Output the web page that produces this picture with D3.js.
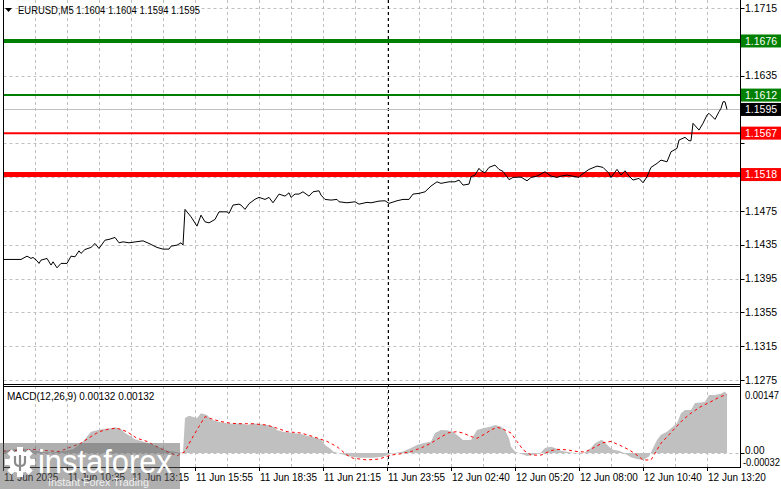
<!DOCTYPE html>
<html><head><meta charset="utf-8">
<script src="https://cdn.jsdelivr.net/npm/d3@7"></script>
<style>
html,body{margin:0;padding:0;background:#fff;}
svg{display:block;}
text{font-family:"Liberation Sans",Arial,sans-serif;}
</style></head>
<body>
<script>
// ---------- DATA ----------
const symbolTitle = "EURUSD,M5  1.1604 1.1604 1.1594 1.1595";
const macdTitle = "MACD(12,26,9) 0.00132 0.00132";
const priceTicks = [1.1275,1.1315,1.1355,1.1395,1.1435,1.1475,1.1515,1.1555,1.1595,1.1635,1.1675,1.1715];
const timeLabels = ["11 Jun 2025","11 Jun 10:35","11 Jun 13:15","11 Jun 15:55","11 Jun 18:35","11 Jun 21:15","11 Jun 23:55","12 Jun 02:40","12 Jun 05:20","12 Jun 08:00","12 Jun 10:40","12 Jun 13:20"];
const timeLabelBars = [0,32,64,96,128,160,192,224,256,288,320,352];
const levelValues = [1.1676, 1.1612, 1.1567, 1.1518];
const currentPrice = 1.1595;
const macdTicks = [0.00147, 0.00, -0.00032];
const daySeparatorBar = 192.5;
// [bar index, close]
const priceSeries = [
[0,1.14176],[9,1.14176],[12,1.14215],[14,1.14188],[15,1.14200],[17,1.14160],[18,1.14129],[19,1.14168],[22,1.14188],[24,1.14109],
[25,1.14148],[27,1.14077],[29,1.14129],[32,1.14129],[34,1.14215],[36,1.14207],[38,1.14278],[39,1.14247],[41,1.14294],[44,1.14318],
[46,1.14365],[48,1.14306],[51,1.14404],[53,1.14413],[56,1.14436],[58,1.14373],[60,1.14384],[63,1.14373],[70,1.14396],[73,1.14365],
[77,1.14318],[80,1.14298],[83,1.14298],[84,1.14333],[87,1.14345],[89,1.14373],[90,1.14345],[91,1.14768],[94,1.14680],[97,1.14570],
[99,1.14700],[101,1.14621],[103,1.14609],[106,1.14649],[108,1.14739],[112,1.14739],[113,1.14720],[115,1.14819],[118,1.14830],[119,1.14819],
[121,1.14768],[123,1.14835],[126,1.14888],[128,1.14910],[131,1.14886],[133,1.14910],[135,1.14846],[138,1.14949],[141,1.14925],[143,1.14964],
[144,1.14910],[146,1.14949],[148,1.14949],[150,1.14976],[153,1.14925],[155,1.14976],[158,1.14988],[159,1.14937],[161,1.14886],[164,1.14878],
[167,1.14886],[168,1.14858],[172,1.14846],[176,1.14858],[178,1.14830],[182,1.14851],[184,1.14846],[188,1.14866],[191,1.14870],[193,1.14839],
[197,1.14870],[200,1.14886],[203,1.14886],[205,1.14949],[208,1.14957],[211,1.14976],[214,1.15044],[217,1.15094],[219,1.15076],[223,1.15094],
[226,1.15094],[228,1.15115],[230,1.15055],[233,1.15067],[234,1.15154],[236,1.15174],[238,1.15253],[239,1.15225],[241,1.15201],[243,1.15265],
[246,1.15292],[248,1.15241],[250,1.15217],[253,1.15120],[255,1.15146],[259,1.15150],[262,1.15106],[264,1.15146],[267,1.15162],[271,1.15213],
[274,1.15162],[277,1.15146],[279,1.15162],[282,1.15174],[288,1.15146],[289,1.15174],[293,1.15241],[297,1.15280],[300,1.15265],[303,1.15194],
[304,1.15146],[307,1.15241],[309,1.15174],[311,1.15225],[313,1.15162],[315,1.15115],[318,1.15135],[320,1.15083],[322,1.15154],[324,1.15265],
[327,1.15312],[329,1.15351],[332,1.15331],[334,1.15449],[337,1.15490],[338,1.15588],[341,1.15620],[343,1.15580],[344,1.15580],[345,1.15786],
[348,1.15706],[350,1.15786],[352,1.15884],[353,1.15904],[356,1.15833],[358,1.15923],[359,1.15963],[360,1.16041],[361,1.16041],[362,1.15950]
];
// [bar index, MACD main]
const macdSeries = [
[0,0.00005],[5,0.00008],[10,0.00010],[15,0.00006],[20,0.00002],[25,0.00001],[30,0.00004],[35,0.00008],[40,0.00026],[42,0.00037],
[44,0.00048],[47,0.00051],[50,0.00054],[54,0.00056],[56,0.00058],[59,0.00054],[61,0.00045],[64,0.00037],[66,0.00031],[69,0.00027],
[72,0.00023],[75,0.00018],[79,0.00011],[82,0.00005],[85,0.00003],[88,0.00001],[90,0.00001],[91,0.00079],[93,0.00084],[97,0.00079],
[99,0.00090],[102,0.00086],[104,0.00076],[107,0.00071],[112,0.00067],[115,0.00066],[119,0.00067],[122,0.00063],[125,0.00067],[129,0.00065],
[132,0.00063],[135,0.00060],[137,0.00052],[140,0.00048],[145,0.00045],[149,0.00043],[152,0.00039],[155,0.00036],[159,0.00031],[161,0.00018],
[164,0.00008],[165,0.00003],[169,-0.00002],[172,-0.00007],[178,-0.00011],[185,-0.00011],[190,-0.00009],[194,-0.00002],[200,0.00003],[204,0.00011],
[207,0.00018],[210,0.00022],[214,0.00026],[216,0.00045],[219,0.00052],[222,0.00051],[225,0.00048],[228,0.00037],[230,0.00029],[234,0.00029],
[237,0.00052],[240,0.00056],[244,0.00060],[246,0.00063],[249,0.00060],[251,0.00052],[253,0.00033],[254,0.00014],[256,0.00003],[259,-0.00002],
[262,-0.00007],[265,-0.00005],[269,0.00001],[271,0.00011],[274,0.00014],[276,0.00011],[279,0.00005],[281,0.00003],[284,0.00001],[287,-0.00001],
[289,-0.00002],[292,0.00003],[294,0.00011],[296,0.00022],[299,0.00029],[300,0.00028],[303,0.00014],[305,0.00007],[308,0.00005],[310,0.00001],
[314,-0.00010],[317,-0.00014],[320,-0.00016],[323,-0.00008],[325,0.00011],[327,0.00029],[329,0.00041],[332,0.00048],[334,0.00056],[337,0.00067],
[339,0.00090],[341,0.00097],[344,0.00097],[346,0.00113],[349,0.00114],[351,0.00116],[353,0.00131],[356,0.00131],[359,0.00134],[361,0.00139],[362,0.00132]
];
// [bar index, MACD signal]
const signalSeries = [
[0,0.00004],[8,0.00006],[15,0.00008],[22,0.00005],[28,0.00003],[39,0.00022],[44,0.00037],[48,0.00048],[53,0.00054],[57,0.00056],
[62,0.00048],[67,0.00033],[72,0.00026],[77,0.00014],[82,0.00003],[87,-0.00007],[91,0.00003],[94,0.00029],[98,0.00060],[101,0.00082],
[105,0.00076],[109,0.00071],[114,0.00067],[119,0.00066],[125,0.00066],[132,0.00063],[137,0.00056],[142,0.00048],[149,0.00045],[155,0.00037],
[162,0.00026],[167,0.00014],[172,-0.00005],[175,-0.00012],[182,-0.00016],[188,-0.00014],[194,-0.00005],[199,-0.00002],[204,0.00003],[209,0.00011],
[214,0.00022],[219,0.00036],[223,0.00046],[227,0.00048],[230,0.00045],[234,0.00037],[237,0.00033],[241,0.00043],[244,0.00052],[247,0.00058],
[250,0.00054],[254,0.00045],[257,0.00026],[260,0.00007],[264,-0.00005],[269,-0.00005],[274,0.00005],[277,0.00008],[282,0.00007],[287,0.00003],
[291,0.00002],[295,0.00011],[300,0.00023],[304,0.00026],[309,0.00016],[313,0.00007],[317,-0.00005],[320,-0.00016],[324,-0.00016],[327,0.00007],
[329,0.00022],[333,0.00041],[336,0.00056],[340,0.00075],[344,0.00090],[349,0.00105],[354,0.00116],[358,0.00126],[361,0.00131],[362,0.00132]
];

// ---------- LAYOUT / STYLE ----------
const W = 781, H = 489;
const L = 3.5, R = 740.5;
const mainTop = 0, mainBot = 384, macdTop = 386, macdBot = 467;
const levelStyle = [
  {color:"#008000", width:4},
  {color:"#008000", width:2},
  {color:"#ff0000", width:2},
  {color:"#ff0000", width:5}
];
const gridColor = "#c0c0c0";

const svg = d3.select("body").append("svg").attr("width", W).attr("height", H);

const x = d3.scaleLinear().domain([0, 362]).range([3, 727]);
const yP = d3.scaleLinear().domain([1.1275, 1.1715]).range([380, 8]);
const yM = d3.scaleLinear().domain([-0.00032, 0.00147]).range([467, 388]);

// grid: horizontal (price)
svg.append("g").selectAll("line").data(priceTicks).join("line")
  .attr("x1", L).attr("x2", R)
  .attr("y1", d => Math.round(yP(d)) + 0.5).attr("y2", d => Math.round(yP(d)) + 0.5)
  .attr("stroke", gridColor).attr("stroke-dasharray", "3,3");
// grid: vertical
const vGridBars = d3.range(16, 362, 16);
[[mainTop, mainBot], [macdTop, macdBot]].forEach(([t, b]) => {
  svg.append("g").selectAll("line").data(vGridBars).join("line")
    .attr("x1", d => Math.round(x(d)) + 0.5).attr("x2", d => Math.round(x(d)) + 0.5)
    .attr("y1", t).attr("y2", b)
    .attr("stroke", gridColor).attr("stroke-dasharray", "3,3");
});
// MACD zero line
svg.append("line").attr("x1", L).attr("x2", R)
  .attr("y1", Math.round(yM(0)) + 0.5).attr("y2", Math.round(yM(0)) + 0.5)
  .attr("stroke", gridColor).attr("stroke-dasharray", "3,3");

// day separator
svg.append("line")
  .attr("x1", Math.round(x(daySeparatorBar)) + 0.5).attr("x2", Math.round(x(daySeparatorBar)) + 0.5)
  .attr("y1", 0).attr("y2", macdBot)
  .attr("stroke", "#000").attr("stroke-dasharray", "3,3");

// current price line
svg.append("line").attr("x1", L).attr("x2", R)
  .attr("y1", Math.round(yP(currentPrice)) + 0.5).attr("y2", Math.round(yP(currentPrice)) + 0.5)
  .attr("stroke", "#c0c0c0").attr("stroke-width", 1);

// level lines
svg.append("g").selectAll("line").data(levelValues).join("line")
  .attr("x1", L).attr("x2", R)
  .attr("y1", d => yP(d)).attr("y2", d => yP(d))
  .attr("stroke", (d, i) => levelStyle[i].color)
  .attr("stroke-width", (d, i) => levelStyle[i].width);

// price line
svg.append("path").datum(priceSeries)
  .attr("d", d3.line().x(d => x(d[0])).y(d => yP(d[1])))
  .attr("fill", "none").attr("stroke", "#000").attr("stroke-width", 1);

// MACD histogram
svg.append("path").datum(macdSeries)
  .attr("d", d3.area().x(d => x(d[0])).y0(yM(0)).y1(d => yM(d[1])))
  .attr("fill", "#c0c0c0");
// signal
svg.append("path").datum(signalSeries)
  .attr("d", d3.line().x(d => x(d[0])).y(d => yM(d[1])))
  .attr("fill", "none").attr("stroke", "#ff0000").attr("stroke-width", 1)
  .attr("stroke-dasharray", "3,3");

// frames
const frame = svg.append("g").attr("stroke", "#000").attr("shape-rendering", "crispEdges");
frame.append("line").attr("x1", L).attr("x2", L).attr("y1", 0).attr("y2", macdBot);
frame.append("line").attr("x1", R).attr("x2", R).attr("y1", 0).attr("y2", macdBot);
frame.append("line").attr("x1", L).attr("x2", R).attr("y1", mainBot + 0.5).attr("y2", mainBot + 0.5);
frame.append("line").attr("x1", L).attr("x2", R).attr("y1", macdTop + 0.5).attr("y2", macdTop + 0.5);
frame.append("line").attr("x1", L).attr("x2", R).attr("y1", macdBot + 0.5).attr("y2", macdBot + 0.5);

// price axis ticks & labels (labels hidden where a level box covers them)
const boxed = levelValues.concat([currentPrice]);
const visibleTicks = priceTicks.filter(t => boxed.every(b => Math.abs(yP(t) - yP(b)) > 11));
const pa = svg.append("g");
pa.selectAll("line").data(priceTicks).join("line")
  .attr("x1", R).attr("x2", R + 4)
  .attr("y1", d => Math.round(yP(d)) + 0.5).attr("y2", d => Math.round(yP(d)) + 0.5)
  .attr("stroke", "#000");
pa.selectAll("text").data(visibleTicks).join("text")
  .attr("x", 745).attr("y", d => yP(d)).attr("dy", "0.35em")
  .attr("font-size", "10.5px").attr("fill", "#000")
  .text(d => d.toFixed(4));

// level labels
function priceBox(v, color) {
  const g = svg.append("g");
  const cy = yP(v);
  g.append("rect").attr("x", 741).attr("y", cy - 6.5).attr("width", 40).attr("height", 13).attr("fill", color);
  g.append("text").attr("x", 745).attr("y", cy).attr("dy", "0.35em")
    .attr("font-size", "10.5px").attr("fill", "#fff").text(v.toFixed(4));
}
priceBox(currentPrice, "#000");
levelValues.forEach((v, i) => priceBox(v, levelStyle[i].color));

// MACD axis labels
const ma = svg.append("g");
ma.append("text").attr("x", 745).attr("y", yM(macdTicks[0]) + 7).attr("dy", "0.35em")
  .attr("font-size", "10px").attr("textLength", 34).attr("lengthAdjust", "spacingAndGlyphs")
  .text(macdTicks[0].toFixed(5));
ma.append("text").attr("x", 745).attr("y", yM(macdTicks[1])).attr("dy", "0.1em")
  .attr("font-size", "10px").text(macdTicks[1].toFixed(2));
ma.append("text").attr("x", 743).attr("y", yM(macdTicks[2]) - 5).attr("dy", "0.35em")
  .attr("font-size", "10px").attr("textLength", 37).attr("lengthAdjust", "spacingAndGlyphs")
  .text(macdTicks[2].toFixed(5));
ma.append("line").attr("x1", R).attr("x2", R + 4)
  .attr("y1", Math.round(yM(0)) + 0.5).attr("y2", Math.round(yM(0)) + 0.5).attr("stroke", "#000");

// time axis
const ta = svg.append("g");
ta.selectAll("line").data(timeLabelBars).join("line")
  .attr("x1", d => Math.round(x(d)) + 0.5).attr("x2", d => Math.round(x(d)) + 0.5)
  .attr("y1", macdBot).attr("y2", macdBot + 4).attr("stroke", "#000");
ta.selectAll("text").data(timeLabels).join("text")
  .attr("x", (d, i) => x(timeLabelBars[i]) + 1).attr("y", 477).attr("dy", "0.35em")
  .attr("font-size", "10px").attr("fill", "#000").text(d => d);

// titles
svg.append("path").attr("d", "M5,8 L12,8 L8.5,12 Z").attr("fill", "#000");
svg.append("text").attr("x", 18).attr("y", 10).attr("dy", "0.35em")
  .attr("font-size", "10px").attr("fill", "#000")
  .attr("textLength", 182).attr("lengthAdjust", "spacingAndGlyphs").text(symbolTitle);
svg.append("text").attr("x", 7).attr("y", 396).attr("dy", "0.35em")
  .attr("font-size", "10px").attr("fill", "#000").text(macdTitle);

// watermark
const wm = svg.append("g");
wm.append("rect").attr("x", 0).attr("y", 443).attr("width", 180).attr("height", 46)
  .attr("fill", "rgba(95,95,95,0.5)");
const gear = wm.append("g").attr("transform", "translate(20,462)");
d3.range(8).forEach(k => {
  gear.append("rect").attr("x", -3).attr("y", -15).attr("width", 6).attr("height", 8)
    .attr("fill", "#fff").attr("transform", `rotate(${k * 45})`);
});
gear.append("circle").attr("r", 11).attr("fill", "#fff");
gear.append("path").attr("d", "M-5,-6 L-5,0 Q-5,4 0,4 Q5,4 5,0 L5,-6 M0,-7 L0,9")
  .attr("fill", "none").attr("stroke", "#8a8a8a").attr("stroke-width", 2.2);
wm.append("text").attr("x", 38).attr("y", 473)
  .attr("font-family", "Lato, 'Open Sans', sans-serif").attr("font-size", "33px")
  .attr("fill", "#fff").attr("textLength", 134).attr("lengthAdjust", "spacingAndGlyphs")
  .text("instaforex");
wm.append("text").attr("x", 48).attr("y", 486)
  .attr("font-family", "'Open Sans', sans-serif").attr("font-size", "11.5px")
  .attr("fill", "#f0f0f0").attr("textLength", 101).attr("lengthAdjust", "spacingAndGlyphs")
  .text("Instant Forex Trading");
</script>
</body></html>
